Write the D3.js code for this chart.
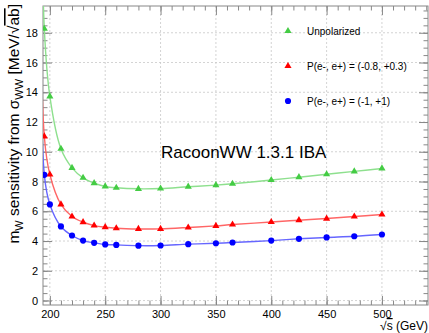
<!DOCTYPE html>
<html>
<head>
<meta charset="utf-8">
<script src="https://cdn.jsdelivr.net/npm/d3@7"></script>
<style>
  body { margin: 0; background: #fff; }
  svg { display: block; font-family: "Liberation Sans", Arial, sans-serif; }
</style>
</head>
<body>
<div id="chart"></div>
<script>
// sqrt(s) points in GeV
var energies = [190, 195, 200, 210, 220, 230, 240, 250, 260, 280, 300, 325, 350, 365, 400, 425, 450, 475, 500];
var unpolarized = [40, 18.27, 13.72, 10.2, 8.92, 8.25, 7.89, 7.67, 7.58, 7.51, 7.53, 7.65, 7.76, 7.85, 8.1, 8.29, 8.49, 8.68, 8.88];
var polM08P03 = [30, 11.03, 8.47, 6.46, 5.65, 5.27, 5.04, 4.93, 4.86, 4.81, 4.82, 4.91, 5.02, 5.11, 5.28, 5.4, 5.51, 5.65, 5.78];
var polM1P1 = [25, 8.45, 6.46, 4.98, 4.37, 4.03, 3.88, 3.77, 3.74, 3.69, 3.7, 3.79, 3.85, 3.9, 4.03, 4.15, 4.24, 4.32, 4.44];
var xTicks = [200, 250, 300, 350, 400, 450, 500];
var yTicks = [0, 2, 4, 6, 8, 10, 12, 14, 16, 18];

var series = [
  { name: "Unpolarized", values: unpolarized, color: "#44cc44", line: "#8ee08e", marker: "triangle" },
  { name: "P(e-, e+) = (-0.8, +0.3)", values: polM08P03, color: "#ff0000", line: "#ff6666", marker: "triangle" },
  { name: "P(e-, e+) = (-1, +1)", values: polM1P1, color: "#0000ff", line: "#6666ff", marker: "circle" }
];

var W = 429, H = 333;
var padL = 43, padR = 428, padT = 6, padB = 305;

var svg = d3.select("#chart").append("svg")
  .attr("width", W).attr("height", H);

var x = d3.scaleLinear().domain([193.8, 541.6]).range([padL, padR]);
var y = d3.scaleLinear().domain([-0.3, 19.8]).range([padB, padT]);

// grid
var grid = svg.append("g").attr("stroke", "#c8c8c8").attr("stroke-dasharray", "2,2").attr("stroke-width", 0.8);
grid.selectAll("line.gx").data(xTicks).enter().append("line")
  .attr("x1", function(d) { return x(d); }).attr("x2", function(d) { return x(d); })
  .attr("y1", padT).attr("y2", padB);
grid.selectAll("line.gy").data(yTicks).enter().append("line")
  .attr("x1", padL).attr("x2", padR)
  .attr("y1", function(d) { return y(d); }).attr("y2", function(d) { return y(d); });

// axes with ROOT style ticks (inside the frame)
var axisColor = "#888";
var xMinor = d3.range(200, 541, 10);
var yMinor = d3.range(0, 19.8, 0.5);

function styleAxis(g) {
  g.select(".domain").remove();
  g.selectAll(".tick line").attr("stroke", axisColor);
  g.selectAll(".tick text").attr("fill", "#000").attr("font-size", 11)
    .attr("font-family", "Liberation Sans, Arial, sans-serif");
}

svg.append("g").attr("transform", "translate(0," + padB + ")")
  .call(d3.axisBottom(x).tickValues(xMinor).tickSize(-4.5).tickFormat(""))
  .call(styleAxis);
svg.append("g").attr("transform", "translate(0," + padB + ")")
  .call(d3.axisBottom(x).tickValues(xTicks).tickSize(-9).tickPadding(5).tickFormat(d3.format("d")))
  .call(styleAxis);
svg.append("g").attr("transform", "translate(0," + padT + ")")
  .call(d3.axisTop(x).tickValues(xMinor).tickSize(-4.5).tickFormat(""))
  .call(styleAxis);
svg.append("g").attr("transform", "translate(0," + padT + ")")
  .call(d3.axisTop(x).tickValues(xTicks).tickSize(-9).tickFormat(""))
  .call(styleAxis);

svg.append("g").attr("transform", "translate(" + padL + ",0)")
  .call(d3.axisLeft(y).tickValues(yMinor).tickSize(-4.5).tickFormat(""))
  .call(styleAxis);
svg.append("g").attr("transform", "translate(" + padL + ",0)")
  .call(d3.axisLeft(y).tickValues(yTicks).tickSize(-9).tickPadding(5).tickFormat(d3.format("d")))
  .call(styleAxis);
svg.append("g").attr("transform", "translate(" + padR + ",0)")
  .call(d3.axisRight(y).tickValues(yMinor).tickSize(-4.5).tickFormat(""))
  .call(styleAxis);
svg.append("g").attr("transform", "translate(" + padR + ",0)")
  .call(d3.axisRight(y).tickValues(yTicks).tickSize(-9).tickFormat(""))
  .call(styleAxis);

svg.append("rect")
  .attr("x", padL).attr("y", padT).attr("width", padR - padL).attr("height", padB - padT)
  .attr("fill", "none").attr("stroke", axisColor).attr("stroke-width", 1);

// curves
svg.append("clipPath").attr("id", "plotclip")
  .append("rect").attr("x", padL).attr("y", padT).attr("width", padR - padL).attr("height", padB - padT);

var plot = svg.append("g").attr("clip-path", "url(#plotclip)");

var line = d3.line()
  .x(function(d) { return x(d[0]); })
  .y(function(d) { return y(d[1]); })
  .curve(d3.curveCatmullRom);

var tri = d3.symbol().type(d3.symbolTriangle).size(22);
var dot = d3.symbol().type(d3.symbolCircle).size(30);

series.forEach(function(s) {
  var pts = energies.map(function(e, i) { return [e, s.values[i]]; });
  plot.append("path").datum(pts)
    .attr("d", line)
    .attr("fill", "none")
    .attr("stroke", s.line)
    .attr("stroke-width", 1.4);
  plot.selectAll(null).data(pts).enter().append("path")
    .attr("d", s.marker === "circle" ? dot : tri)
    .attr("transform", function(d) { return "translate(" + x(d[0]) + "," + y(d[1]) + ")"; })
    .attr("fill", s.color);
});

// legend
var legend = svg.append("g");
series.forEach(function(s, i) {
  var ly = 31 + i * 35;
  legend.append("path")
    .attr("d", s.marker === "circle" ? dot : tri)
    .attr("transform", "translate(288," + ly + ")")
    .attr("fill", s.color);
  legend.append("text")
    .attr("x", 307).attr("y", ly + 3.5)
    .attr("font-size", 10)
    .text(s.name);
});

// title inside
svg.append("text")
  .attr("x", 161).attr("y", 158)
  .attr("font-size", 17)
  .text("RacoonWW 1.3.1 IBA");

// x axis title
var xt = svg.append("text")
  .attr("x", padR).attr("y", 330)
  .attr("text-anchor", "end")
  .attr("font-size", 12);
xt.append("tspan").text("\u221A");
xt.append("tspan").attr("text-decoration", "overline").text("s");
xt.append("tspan").text(" (GeV)");

// y axis title
var yt = svg.append("text")
  .attr("transform", "translate(19," + (padT - 2) + ") rotate(-90)")
  .attr("text-anchor", "end")
  .attr("font-size", 15.5);
yt.append("tspan").text("m");
yt.append("tspan").attr("font-size", 11).attr("dy", 4).text("W");
yt.append("tspan").attr("dy", -4).text(" sensitivity from \u03C3");
yt.append("tspan").attr("font-size", 11).attr("dy", 4).text("WW");
yt.append("tspan").attr("dy", -4).text(" [MeV/\u221A");
yt.append("tspan").attr("text-decoration", "overline").text("ab");
yt.append("tspan").text("]");
</script>
</body>
</html>
